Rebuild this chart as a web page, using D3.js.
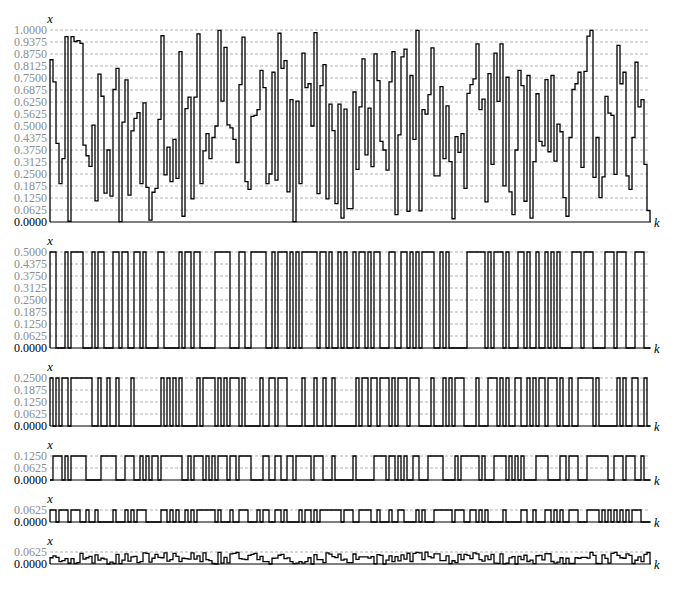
<!DOCTYPE html>
<html><head><meta charset="utf-8">
<script src="https://cdn.jsdelivr.net/npm/d3@7/dist/d3.min.js"></script>
<style>body{margin:0;background:#fff}svg{display:block}</style>
</head><body>
<svg id="chart" width="700" height="594"></svg>
<script>
// signal x_k (200 samples)
const xValues = [
0.845,0.73,0.41,0.20,0.33,0.965,0.004,0.965,0.94,0.945,
0.93,0.40,0.345,0.29,0.505,0.11,0.77,0.655,0.15,0.375,
0.135,0.69,0.80,0.002,0.52,0.74,0.14,0.475,0.54,0.57,
0.20,0.62,0.18,0.01,0.155,0.175,0.535,0.97,0.245,0.39,
0.21,0.43,0.227,0.887,0.03,0.59,0.65,0.12,0.65,0.98,
0.20,0.37,0.46,0.33,0.44,0.50,0.998,0.63,0.91,0.506,
0.49,0.43,0.31,0.716,0.963,0.21,0.17,0.55,0.555,0.585,
0.79,0.70,0.20,0.25,0.78,0.218,0.983,0.80,0.84,0.157,
0.637,0.002,0.63,0.20,0.88,0.70,0.72,0.50,0.986,0.148,
0.71,0.82,0.12,0.614,0.476,0.096,0.614,0.02,0.588,0.07,
0.07,0.677,0.274,0.60,0.85,0.35,0.593,0.288,0.876,0.736,
0.42,0.375,0.27,0.73,0.887,0.038,0.454,0.86,0.90,0.056,
0.763,0.43,0.998,0.058,0.585,0.562,0.663,0.907,0.24,0.24,
0.705,0.33,0.605,0.314,0.017,0.445,0.363,0.46,0.175,0.67,
0.715,0.745,0.928,0.585,0.64,0.105,0.773,0.30,0.88,0.628,
0.928,0.188,0.754,0.157,0.038,0.375,0.79,0.71,0.108,0.763,
0.02,0.314,0.668,0.42,0.396,0.742,0.366,0.763,0.317,0.51,
0.47,0.127,0.03,0.44,0.69,0.72,0.78,0.284,0.785,0.968,
0.998,0.232,0.44,0.127,0.235,0.654,0.567,0.555,0.248,0.92,
0.72,0.78,0.24,0.17,0.44,0.832,0.60,0.637,0.30,0.06
];
// bit weights of the four quantisation panels
const bitWeights = [0.5, 0.25, 0.125, 0.0625];
// y-axis maxima of the six panels
const panelMax = [1, 0.5, 0.25, 0.125, 0.0625, 0.0625];
// tick labels per panel
const ticks0 = ["0.0000","0.0625","0.1250","0.1875","0.2500","0.3125","0.3750","0.4375","0.5000","0.5625","0.6250","0.6875","0.7500","0.8125","0.8750","0.9375","1.0000"];
const ticks1 = ["0.0000","0.0625","0.1250","0.1875","0.2500","0.3125","0.3750","0.4375","0.5000"];
const ticks2 = ["0.0000","0.0625","0.1250","0.1875","0.2500"];
const ticks3 = ["0.0000","0.0625","0.1250"];
const ticks4 = ["0.0000","0.0625"];
const ticks5 = ["0.0000","0.0625"];
const tickSets = [ticks0, ticks1, ticks2, ticks3, ticks4, ticks5];

// series: quantised bit components and remainder of the same signal
const series = [xValues];
let rest = xValues.slice();
bitWeights.forEach(w => {
  const comp = rest.map(v => v >= w ? w : 0);
  series.push(comp);
  rest = rest.map((v, i) => v - comp[i]);
});
series.push(rest);

const N = xValues.length;
const svg = d3.select("#chart");
const xScale = d3.scaleLinear().domain([0, N]).range([50, 650]);
const unit = 192, gap = 30;
let panelTop = 30;
const serif = "'Liberation Serif', 'Times New Roman', serif";

series.forEach((vals, p) => {
  const h = panelMax[p] * unit;
  const yScale = d3.scaleLinear().domain([0, panelMax[p]]).range([panelTop + h, panelTop]);
  const g = svg.append("g");
  const tv = tickSets[p].map(Number);
  // grid
  g.selectAll("line.grid").data(tv.filter(t => t > 0)).join("line")
    .attr("x1", 50).attr("x2", 649)
    .attr("y1", d => yScale(d)).attr("y2", d => yScale(d))
    .attr("stroke", "#a0a0a0").attr("stroke-width", 0.8)
    .attr("stroke-dasharray", "3,2");
  // y axis labels
  const ax = d3.axisLeft(yScale).tickValues(tv).tickSize(0).tickPadding(3)
    .tickFormat(d3.format(".4f"));
  const ag = g.append("g").attr("transform", "translate(50,0)").call(ax)
    .attr("font-family", serif).attr("font-size", 12);
  ag.select(".domain").remove();
  ag.selectAll("text")
    .attr("fill", d => d === 0 ? "#000" : "#8c8c8c");
  // x axis line
  g.append("line").attr("x1", 50).attr("x2", 651)
    .attr("y1", yScale(0)).attr("y2", yScale(0))
    .attr("stroke", "#000").attr("stroke-width", 1.1);
  // step path
  const pts = [[0, 0]];
  vals.forEach((v, i) => { pts.push([i, v]); pts.push([i + 1, v]); });
  pts.push([N, 0]);
  const line = d3.line().x(d => xScale(d[0])).y(d => yScale(d[1]));
  g.append("path").attr("d", line(pts)).attr("fill", "none")
    .attr("stroke", "#000").attr("stroke-width", 1.3)
    .attr("stroke-linejoin", "miter");
  // axis names
  g.append("text").attr("x", 50).attr("y", panelTop - 7).attr("text-anchor", "middle")
    .attr("font-family", serif).attr("font-style", "italic")
    .attr("font-size", 12.5).text("x");
  g.append("text").attr("x", 654).attr("y", yScale(0) + 5)
    .attr("font-family", serif).attr("font-style", "italic")
    .attr("font-size", 12.5).text("k");
  panelTop += h + gap;
});
</script>
</body></html>
